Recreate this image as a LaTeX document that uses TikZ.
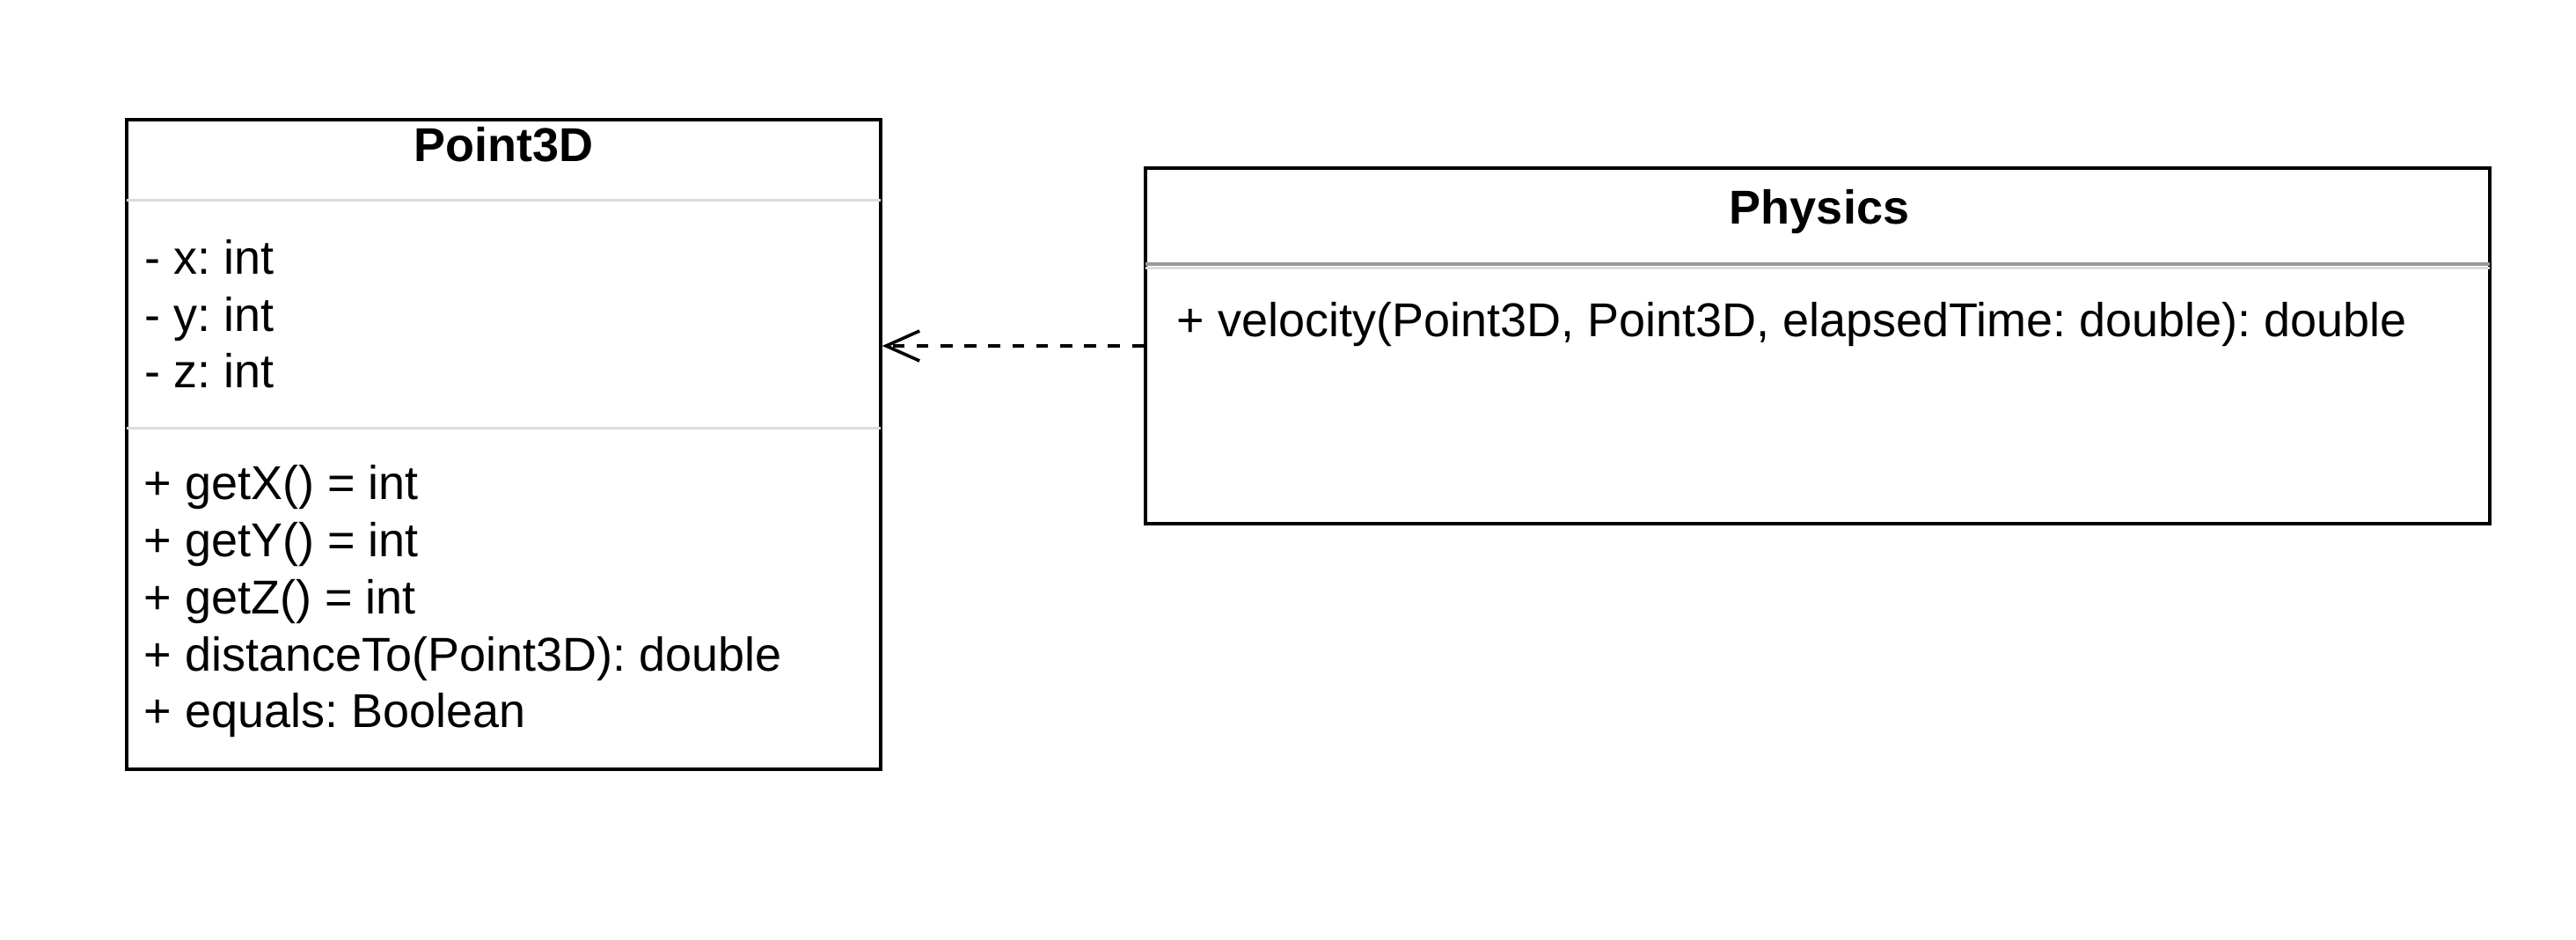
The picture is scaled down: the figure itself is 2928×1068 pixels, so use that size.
\documentclass[tikz,border=0pt]{standalone}
\usepackage{fontspec}
\setmainfont{Liberation Sans}
\usetikzlibrary{arrows.meta,calc}
\definecolor{seplight}{HTML}{DCDCDC}
\definecolor{sepdark}{HTML}{999999}
\frenchspacing
\begin{document}
\begin{tikzpicture}[x=0.25pt,y=-0.25pt,
  box/.style={draw=black, line width=0.9pt, fill=white, inner sep=0pt},
  txt/.style={anchor=base west, inner sep=0pt, font=\fontsize{13.5pt}{16pt}\selectfont},
  ttl/.style={anchor=base, inner sep=0pt, font=\fontsize{13.5pt}{16pt}\selectfont\bfseries},
  sepl/.style={draw=seplight, line width=0.8pt},
  sepd/.style={draw=sepdark, line width=1pt},
  dep/.style={line width=0.9pt, dash pattern=on 3.4pt off 3.4pt,
    -{Straight Barb[length=9.5pt,width=8.5pt]}}
]
\useasboundingbox[fill=white] (0,0) rectangle (2928,1068);

% boxes
\node[box, minimum width=214.25pt, minimum height=184.5pt] (p3d) at (572.5,505) {};
\node[box, minimum width=382pt, minimum height=101pt] (phys) at (2066,393) {};

% separators Point3D
\draw[sepl] ($(p3d.north west)+(2,93)$) -- ($(p3d.north east)+(-2,93)$);
\draw[sepl] ($(p3d.north west)+(2,352)$) -- ($(p3d.north east)+(-2,352)$);
% separator Physics
\draw[sepd] ($(phys.north west)+(2,111)$) -- ($(phys.north east)+(-2,111)$);
\draw[sepl] ($(phys.north west)+(2,115)$) -- ($(phys.north east)+(-2,115)$);

% Point3D texts
\node[ttl] (p3dtitle) at (572,184) {Point3D};
\node[txt] (ax) at (164,312) {- x: int};
\node[txt] (ay) at (164,377) {- y: int};
\node[txt] (az) at (164,441) {- z: int};
\node[txt] (mx) at (163,568) {+ getX() = int};
\node[txt] (my) at (163,633) {+ getY() = int};
\node[txt] (mz) at (163,698) {+ getZ() = int};
\node[txt] (md) at (163,763) {+ distanceTo(Point3D): double};
\node[txt] (me) at (163,827) {+ equals: Boolean};

% Physics texts
\node[ttl] (phystitle) at (2068,255) {Physics};
\node[txt] (vel) at (1337,383) {+ velocity(Point3D, Point3D, elapsedTime: double): double};

% dependency
\draw[dep] (phys.west) -- (phys.west -| p3d.east);
\end{tikzpicture}
\end{document}
